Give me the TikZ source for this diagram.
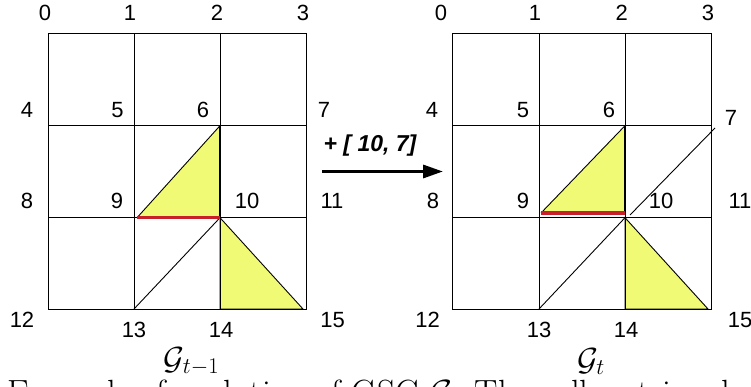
\RequirePackage{fix-cm}
\documentclass[tikz,border=0pt]{standalone}
\usepackage{fontspec}
\usetikzlibrary{arrows.meta}
\newfontfamily\labfont{Liberation Sans}
\definecolor{triyellow}{RGB}{241,250,117}
\definecolor{edgered}{RGB}{200,32,42}
\tikzset{
  gridline/.style={line width=0.9pt, black},
  thickedge/.style={line width=2.2pt, black},
  rededge/.style={line width=3.4pt, edgered},
  tri/.style={fill=triyellow, draw=black, line width=0.9pt},
  vlab/.style={font=\labfont\fontsize{22}{24}\selectfont, inner sep=0pt},
  glab/.style={font=\fontsize{32}{34}\selectfont, inner sep=0pt, anchor=base},
  oplab/.style={font=\labfont\bfseries\itshape\fontsize{23}{25}\selectfont, inner sep=0pt},
  bigarrow/.style={line width=3.2pt, -{Triangle[length=20pt,width=13pt]}},
}
\begin{document}
\begin{tikzpicture}[x=1pt,y=-1pt]
\useasboundingbox (0,0) rectangle (751,387);
\clip (0,0) rectangle (751,387);
% ---------- left grid ----------
\coordinate (L0) at (48,33.3);   \coordinate (L3) at (306,33.3);
\coordinate (L12) at (48,309);   \coordinate (L15) at (306,309);
\coordinate (L6) at (220,125.7); \coordinate (L9) at (134,217.7);
\coordinate (L10) at (220,217.7);\coordinate (L13) at (134,309);
\coordinate (L14) at (220,309);  \coordinate (L14b) at (303,309);
\coordinate (L9b) at (137,217.7);
\fill[triyellow] (L6) -- (L9b) -- (L10) -- cycle;
\draw[tri] (L10) -- (L14) -- (L14b) -- cycle;
\draw[gridline] (L0) rectangle (L15);
\foreach \x in {134,220} \draw[gridline] (\x,33.3) -- (\x,309);
\foreach \y in {125.7,217.7} \draw[gridline] (48,\y) -- (306,\y);
\draw[gridline] (L6) -- (L9b);
\draw[gridline] (L13) -- (L10);
\draw[thickedge] (L6) -- (L10);
\draw[rededge] (L9b) -- (L10);
% left labels
\node[vlab] (l0) at (45,12.5) {0};
\node[vlab] (l1) at (130,12.5) {1};
\node[vlab] (l2) at (217,12.5) {2};
\node[vlab] (l3) at (303,12.5) {3};
\node[vlab] (l4) at (27,110) {4};
\node[vlab] (l5) at (117.5,110) {5};
\node[vlab] (l6) at (203,110) {6};
\node[vlab] (l7) at (324,110) {7};
\node[vlab] (l8) at (27,201) {8};
\node[vlab] (l9) at (117,201) {9};
\node[vlab] (l10) at (247,201) {10};
\node[vlab] (l11) at (332,201) {11};
\node[vlab] (l12) at (22,320) {12};
\node[vlab] (l13) at (134,330) {13};
\node[vlab] (l14) at (221,330) {14};
\node[vlab] (l15) at (332.5,320) {15};
\node[glab] (gl) at (191.5,369) {$\mathcal{G}_{t-1}$};
% ---------- arrow ----------
\coordinate (as) at (322,171.5);
\coordinate (ae) at (443,171.5);
\draw[bigarrow] (as) -- (ae);
\node[oplab] (op) at (370,146) {+ [ 10, 7]};
% ---------- right grid ----------
\coordinate (R0) at (452.7,33.3); \coordinate (R15) at (711.7,309);
\coordinate (R6) at (625,125.7);  \coordinate (R9b) at (541,213);
\coordinate (R10b) at (625,213);  \coordinate (R10) at (625,217.7);
\coordinate (R13) at (539,309);   \coordinate (R14) at (625,309);
\coordinate (R14b) at (708,309);
\coordinate (R7x) at (715,128);   \coordinate (R10x) at (630,215);
\fill[triyellow] (R6) -- (R9b) -- (R10b) -- cycle;
\draw[tri] (R10) -- (R14) -- (R14b) -- cycle;
\draw[gridline] (R0) rectangle (R15);
\foreach \x in {539,625} \draw[gridline] (\x,33.3) -- (\x,309);
\foreach \y in {125.7,217.7} \draw[gridline] (452.7,\y) -- (711.7,\y);
\draw[gridline] (R6) -- (R9b);
\draw[gridline] (R13) -- (R10);
\draw[gridline] (R7x) -- (R10x);
\draw[thickedge] (R6) -- (R10b);
\draw[rededge] (R9b) -- (R10b);
% right labels
\node[vlab] (r0) at (441,12.5) {0};
\node[vlab] (r1) at (535,12.5) {1};
\node[vlab] (r2) at (621.7,12.5) {2};
\node[vlab] (r3) at (708,12.5) {3};
\node[vlab] (r4) at (432,110) {4};
\node[vlab] (r5) at (523,110) {5};
\node[vlab] (r6) at (609,110) {6};
\node[vlab] (r7) at (731,118) {7};
\node[vlab] (r8) at (433,201) {8};
\node[vlab] (r9) at (523,201) {9};
\node[vlab] (r10) at (661,201) {10};
\node[vlab] (r11) at (740,201) {11};
\node[vlab] (r12) at (427.5,320) {12};
\node[vlab] (r13) at (539,330) {13};
\node[vlab] (r14) at (626,330) {14};
\node[vlab] (r15) at (740,320) {15};
\node[glab] (gr) at (591,370) {$\mathcal{G}_{t}$};
% ---------- caption (cut off) ----------
\node[font=\fontsize{35}{38}\selectfont, inner sep=0pt, anchor=base west] (cap) at (7,404)
  {Example of evolution of GSC $\mathcal{G}$. The yellow triangles de};
\end{tikzpicture}
\end{document}
